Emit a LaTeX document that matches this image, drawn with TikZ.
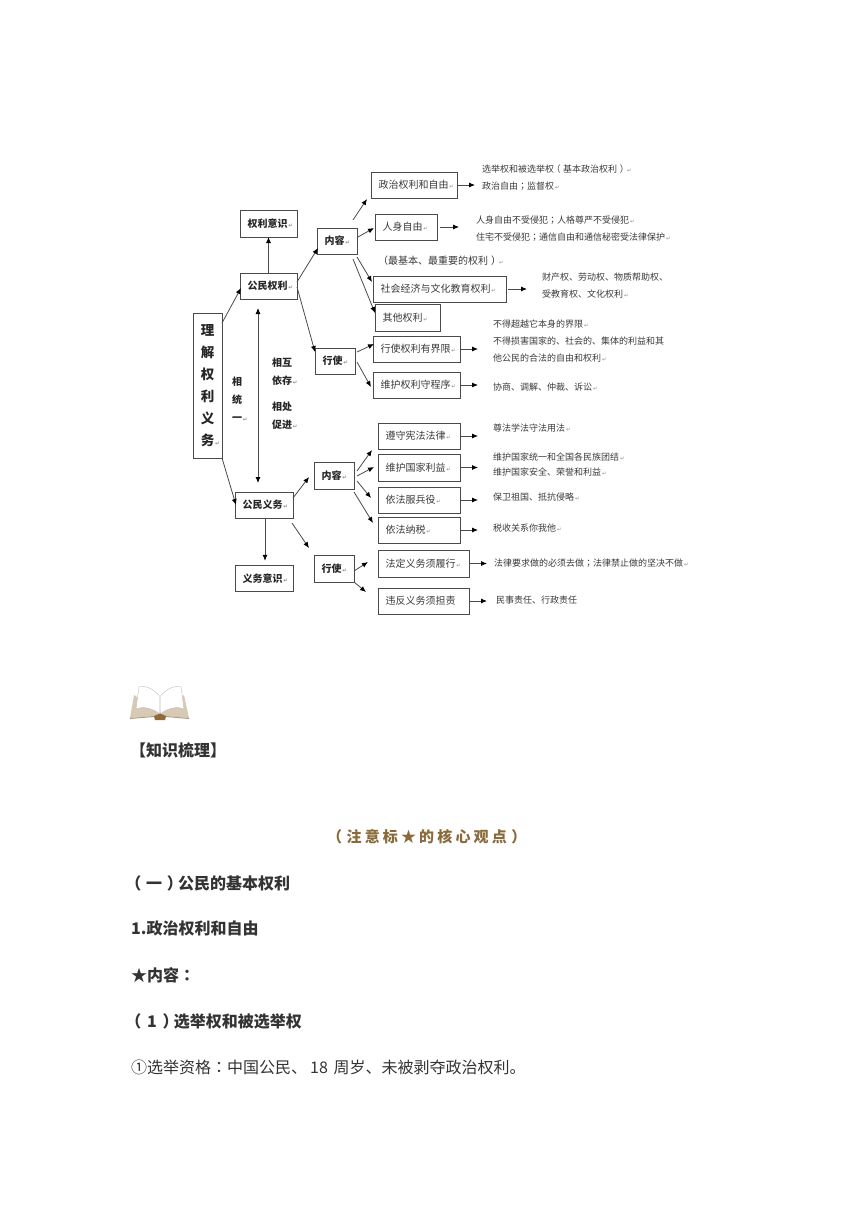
\documentclass[tikz,border=0pt]{standalone}
\usepackage{fontspec}
\setmainfont{Noto Sans CJK SC}
\newfontfamily\retfont{DejaVu Sans}
\newfontfamily\tcfont{Noto Sans CJK TC}
\newfontfamily\spacedfont[LetterSpace=21]{Noto Sans CJK SC}
\usepackage{xcolor}
\usetikzlibrary{arrows.meta,positioning,calc}
\definecolor{ink}{HTML}{3A3A3A}
\definecolor{boxline}{HTML}{4A4A4A}
\definecolor{title}{HTML}{8A6A3A}
\definecolor{booktan}{HTML}{B59E7C}
\definecolor{bookbrown}{HTML}{8F6A3A}
\newcommand{\ret}{\rlap{\retfont\fontsize{5.5}{5}\selectfont\textcolor{black!45}{\,↵}}}
\newcommand{\lp}{\hspace{-.3em}（\hspace{.3em}}
\newcommand{\rp}{\hspace{.3em}）\hspace{-.3em}}
\newcommand{\cn}{{\tcfont ：}}
\newcommand{\sm}{{\tcfont ；}}
\tikzset{
  box/.style={draw=boxline, line width=.8pt, minimum width=#1, minimum height=26pt, inner sep=0pt,
              text width=\dimexpr#1-15pt\relax, align=left, text=ink, font=\fontsize{10}{12}\selectfont},
  key/.style={box=#1, text=black!85, font=\fontsize{10}{12}\selectfont\bfseries},
  note/.style={anchor=west, inner sep=0pt, align=left, text=ink,
               font=\fontsize{9}{17}\selectfont},
  tag/.style={inner sep=0pt, align=center, text=black!85,
              font=\fontsize{10}{18}\selectfont\bfseries},
  heading/.style={anchor=west, inner sep=0pt, text=black!80,
                  font=\fontsize{16}{18}\selectfont\bfseries},
  arrow/.style={-{Latex[length=6pt,width=5pt,black]}, line width=.8pt, draw=boxline},
  both/.style={{Latex[length=6pt,width=5pt,black]}-{Latex[length=6pt,width=5pt,black]}, line width=.8pt, draw=boxline}
}
\begin{document}
\begin{tikzpicture}[x=1pt,y=-1pt]
  \useasboundingbox (0,0) rectangle (860,1216);
  % boxes on the left
  \node[draw=boxline, line width=.8pt, minimum width=29pt, minimum height=145pt, inner sep=0pt, align=center,
        text=black!85, font=\fontsize{13.5}{22}\selectfont\bfseries] (root) at (207.5,385.5) {理\\解\\权\\利\\义\\务\ret};
  \node[key=57pt, minimum height=27pt] (awareright) at (268.5,223.5) {权利意识\ret};
  \node[key=57pt] (right) at (268.5,286) {公民权利\ret};
  \node[key=58pt] (duty) at (264,505) {公民义务\ret};
  \node[key=58pt, below=47pt of duty] (awareduty) {义务意识\ret};
  \node[key=40pt] (rcontent) at (337,241) {内容\ret};
  \node[key=40pt] (rexercise) at (335,361) {行使\ret};
  \node[key=40pt, minimum height=27pt] (dcontent) at (334,475.5) {内容\ret};
  \node[key=40pt, minimum height=27pt] (dexercise) at (334,568.5) {行使\ret};
  % right side boxes
  \node[box=86pt] (politic) at (414,185) {政治权利和自由\ret};
  \node[box=62pt] (person) at (406,227) {人身自由\ret};
  \node[box=133pt] (social) at (439.5,289) {社会经济与文化教育权利\ret};
  \node[box=65pt, minimum height=27pt] (other) at (407.5,317.5) {其他权利\ret};
  \node[box=87pt] (limit) at (416.5,349) {行使权利有界限\ret};
  \node[box=87pt] (procedure) at (416.5,385) {维护权利守程序\ret};
  \node[box=82pt] (obey) at (419,436) {遵守宪法法律\ret};
  \node[box=82pt, minimum height=27pt] (defend) at (419,467.5) {维护国家利益\ret};
  \node[box=82pt] (army) at (419,500) {依法服兵役\ret};
  \node[box=82pt] (tax) at (419,530) {依法纳税\ret};
  \node[box=91pt, minimum height=27pt] (perform) at (423.5,563.5) {法定义务须履行\ret};
  \node[box=91pt] (bear) at (423.5,601) {违反义务须担责};
  % loose texts
  \node[note, font=\fontsize{10}{12}\selectfont] (basic) at (378,261) {（最基本、最重要的权利\rp\ret};
  \node[note] (tpolitic) at (482,178) {选举权和被选举权\lp 基本政治权利\rp\ret\\政治自由\sm 监督权\ret};
  \node[note] (tperson) at (476,228.5) {人身自由不受侵犯\sm 人格尊严不受侵犯\ret\\住宅不受侵犯\sm 通信自由和通信秘密受法律保护\ret};
  \node[note] (tsocial) at (542,285.5) {财产权、劳动权、物质帮助权、\\受教育权、文化权利\ret};
  \node[note] (tlimit) at (493,341) {不得超越它本身的界限\ret\\不得损害国家的、社会的、集体的利益和其\\他公民的合法的自由和权利\ret};
  \node[note] (tprocedure) at (493,387) {协商、调解、仲裁、诉讼\ret};
  \node[note] (tobey) at (493,428) {尊法学法守法用法\ret};
  \node[note, font=\fontsize{9}{15}\selectfont] (tdefend) at (493,464.5) {维护国家统一和全国各民族团结\ret\\维护国家安全、荣誉和利益\ret};
  \node[note] (tarmy) at (493,497) {保卫祖国、抵抗侵略\ret};
  \node[note] (ttax) at (493,528) {税收关系你我他\ret};
  \node[note] (tperform) at (494,563) {法律要求做的必须去做\sm 法律禁止做的坚决不做\ret};
  \node[note] (tbear) at (496,600) {民事责任、行政责任};
  \node[tag] (unity) at (237,399) {相\\统\\一\ret};
  \node[tag] (mutual) at (282,371.5) {相互\\依存\ret};
  \node[tag] (promote) at (282,415.5) {相处\\促进\ret};
  % slanted arrows, offsets from the node centres
  \foreach \u/\a/\b/\v/\c/\d in {root/14.5/-62.5/right/-27.5/2, root/14.5/72.5/duty/-28/0,
      right/0/-13/awareright/0/13.5, right/28.5/-4/rcontent/-19/7, right/28.5/1/rexercise/-20/-9,
      rcontent/16/-21/politic/-47/14, rcontent/21/-4/person/-32/1, rcontent/20/16/social/-67.5/-7,
      rcontent/16/18/other/-32.5/-4.5, rexercise/22/-9/limit/-42.5/-5, rexercise/22/1/procedure/-45.5/2,
      duty/29/-7/dcontent/-25/1.5, duty/28/18/dexercise/-25/-20.5, duty/1/13/awareduty/1/-18,
      dcontent/23/-4.5/obey/-47/14, dcontent/23/.5/defend/-45/-.5, dcontent/23/5.5/army/-48/-2,
      dcontent/20/16.5/tax/-46/-7, dexercise/20/2.5/perform/-55.5/-1.5, dexercise/20/13.5/bear/-57.5/-9}
    \draw[arrow] ([shift={(\a,\b)}]\u.center) -- ([shift={(\c,\d)}]\v.center);
  \draw[both] ([shift={(-10.5,22)}]right.center) -- ([shift={(-6,-22)}]duty.center);
  % straight arrows towards the texts
  \foreach \u/\v/\a/\s in {politic/tpolitic/0/7, person/tperson/3/17, social/tsocial/2/15, limit/tlimit/0/15,
      procedure/tprocedure/0/15, obey/tobey/0/15, defend/tdefend/0/15, army/tarmy/0/15, tax/ttax/0/15,
      perform/tperform/0/7, bear/tbear/0/9}
    \draw[arrow, shorten >=\s pt] ([xshift=\a pt]\u.east) -- (\u.east -| \v.west);
  % book
  \fill[booktan!55] (134,695) -- (130,718) -- (154,716) -- (166,716) -- (189,718) -- (184,695) -- (160,712) -- cycle;
  \draw[booktan, line width=1pt] (130,718.5) -- (154,716.5);
  \draw[booktan, line width=1pt] (166,716.5) -- (189,718.5);
  \draw[black!25, fill=white] (136,709) .. controls (143,706) and (153,708) .. (159.5,714) -- (159.5,696) .. controls (154,689) and (145,685) .. (139,687) -- cycle;
  \draw[black!25, fill=white] (184,709) .. controls (177,706) and (167,708) .. (160.5,714) -- (160.5,696) .. controls (166,689) and (175,685) .. (181,687) -- cycle;
  \fill[bookbrown] (154,716) -- (160,713.5) -- (166,716) -- (165,720) -- (155,720) -- cycle;
  % text below
  \node[heading, anchor=center] (sorting) at (178,750) {【知识梳理】};
  \node[inner sep=0pt, text=title, font=\fontsize{15}{16}\selectfont\bfseries\spacedfont] (hint) at (429,837) {\lp 注意标★的核心观点\rp};
  \node[heading] (h1) at (130,883) {\lp 一\rp 公民的基本权利};
  \node[heading] (h2) at (131,928) {1.政治权利和自由};
  \node[heading] (h3) at (131,975) {★内容\cn};
  \node[heading] (h4) at (130,1021) {\lp\hspace{1pt}1\hspace{1pt}\rp 选举权和被选举权};
  \node[heading, font=\fontsize{16}{18}\selectfont] (h5) at (131,1067) {①选举资格\cn 中国公民、\hspace{3pt}18\hspace{2pt} 周岁、未被剥夺政治权利。};
\end{tikzpicture}
\end{document}
